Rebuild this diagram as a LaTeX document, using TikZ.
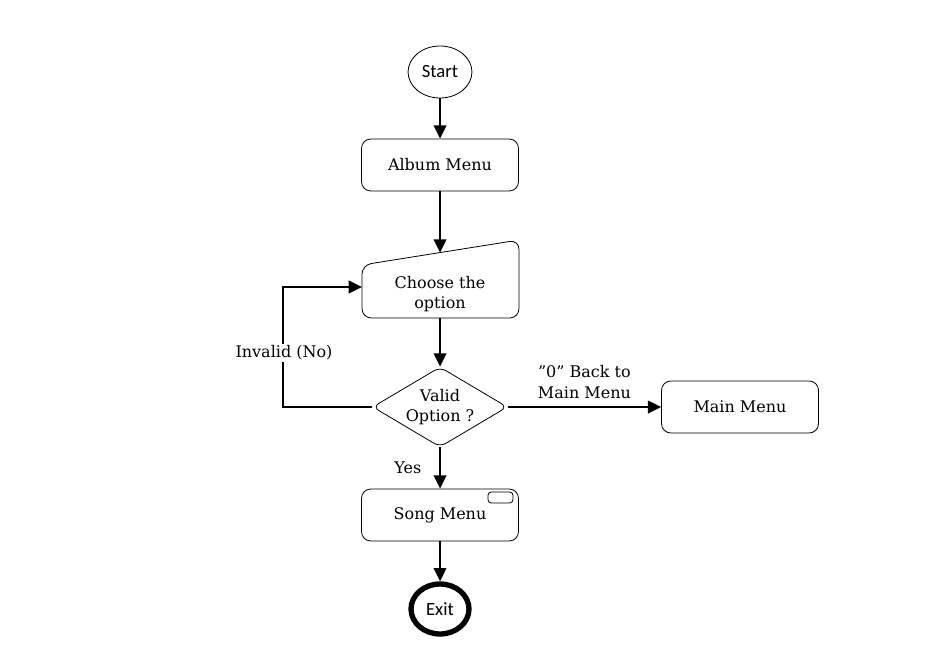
\documentclass[tikz,border=0pt]{standalone}
\usepackage{fontspec}
\setmainfont{DejaVu Serif}
\newfontfamily\termfont{Carlito}
\usetikzlibrary{shapes.geometric,arrows.meta}

\begin{document}
\begin{tikzpicture}[x=0.75pt,y=-0.75pt,
    font=\fontsize{12}{15.5}\selectfont,
    box/.style={draw,line width=0.6pt,rounded corners=7pt,minimum width=117.75pt,minimum height=39pt,align=center},
    term/.style={draw,ellipse,font=\termfont\fontsize{14}{16}\selectfont},
    flow/.style={line width=1.5pt,-{Triangle[length=10pt,width=9.5pt]}}]
    \useasboundingbox (0,0) rectangle (945,652);
    % nodes
    \node[term,line width=0.6pt,minimum width=46.5pt,minimum height=39pt] (start) at (440,72) {Start};
    \node[box] (album) at (440,165) {Album Menu};
    \draw[line width=0.6pt,rounded corners=7pt] (362,265) -- (519,240) -- (519,318) -- (362,318) -- cycle;
    \node[align=center] (choose) at (440,294) {Choose the\\option};
    \coordinate (choose-top) at (440,252.6);
    \coordinate (choose-w) at (362,287);
    \node[draw,diamond,line width=0.6pt,rounded corners=5pt,aspect=1.675,inner sep=0pt,
          minimum width=101pt,minimum height=60pt,align=center] (valid) at (440,407) {Valid\\Option ?};
    \node[box] (main) at (740,407) {Main Menu};
    \node[box] (song) at (440,515) {Song Menu};
    \draw[line width=0.6pt,rounded corners=2.5pt] (488,492) rectangle (513,503);
    \node[term,line width=4pt,minimum width=43.5pt,minimum height=37.5pt] (exit) at (440,609) {Exit};
    % connectors
    \draw[flow] (start) -- (album);
    \draw[flow] (album) -- (choose-top);
    \draw[flow] (choose) ++(0,24) -- (valid.north);
    \draw[flow] (valid.west) -- ++(-89,0) |- (choose-w);
    \node[fill=white,inner sep=1pt] (invalid) at (284,353) {Invalid (No)};
    \draw[flow] (valid.east) -- (main.west)
        node[midway,above=2pt,align=center] {”0” Back to\\Main Menu};
    \draw[flow] (valid.south) -- (song.north) node[midway,left=10pt] {Yes};
    \draw[flow] (song) -- (exit);
\end{tikzpicture}
\end{document}
